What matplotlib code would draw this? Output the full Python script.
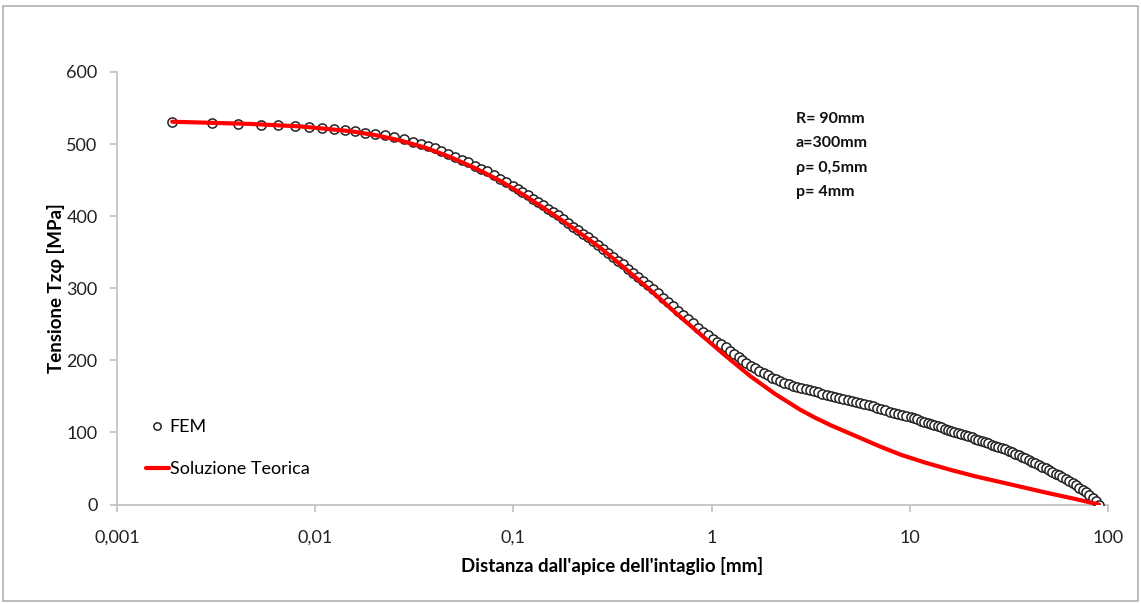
import matplotlib
matplotlib.use("Agg")
import matplotlib.pyplot as plt
from matplotlib.patches import Rectangle

plt.rcParams['font.family'] = ['Lato', 'DejaVu Sans']

# FEM results (distance from notch tip [mm], stress [MPa])
fem_x = [0.0019, 0.0030, 0.0041, 0.0053, 0.0065, 0.0079, 0.0093, 0.0108, 0.0124, 0.0141,
         0.0159, 0.0179, 0.0200, 0.0224, 0.0250, 0.0280,
         0.031, 0.034, 0.037, 0.040, 0.043, 0.047, 0.051, 0.055, 0.059, 0.064,
         0.069, 0.074, 0.080, 0.086, 0.092, 0.099,
         0.105, 0.111, 0.118, 0.125, 0.133, 0.141, 0.149, 0.158, 0.168, 0.178,
         0.188, 0.200, 0.212, 0.224, 0.238, 0.252, 0.267, 0.283, 0.300, 0.318,
         0.337, 0.357, 0.379, 0.402, 0.426, 0.451, 0.478, 0.507, 0.537, 0.570,
         0.604, 0.640, 0.678, 0.719, 0.762, 0.808, 0.857, 0.908, 0.963,
         1.02, 1.07, 1.12, 1.18, 1.24, 1.30, 1.37, 1.43, 1.50, 1.58,
         1.66, 1.74, 1.83, 1.92, 2.02, 2.12, 2.22, 2.33, 2.45, 2.57,
         2.70, 2.84, 2.98, 3.13, 3.28, 3.45, 3.62, 3.80, 3.99, 4.19,
         4.40, 4.62, 4.85, 5.09, 5.35, 5.61, 5.89, 6.19, 6.50, 6.82,
         7.16, 7.52, 7.90, 8.29, 8.71, 9.14, 9.60,
         10.1, 10.5, 10.9, 11.4, 11.8, 12.3, 12.8, 13.3, 13.8, 14.4,
         15.0, 15.6, 16.2, 16.8, 17.5, 18.2, 18.9, 19.7, 20.5, 21.3,
         22.1, 23.0, 23.9, 24.9, 25.9, 26.9, 28.0, 29.1, 30.3, 31.5,
         32.7, 34.0, 35.4, 36.8, 38.3, 39.8, 41.4, 43.0, 44.7, 46.5,
         48.4, 50.3, 52.3, 54.4, 56.6, 58.8, 61.2, 63.6, 66.2, 68.8,
         71.6, 74.4, 77.4, 80.5, 83.7, 87.0, 90.0]
fem_y = [531, 529, 528, 527, 526, 525, 524, 522.5, 521, 519.5,
         518, 516, 514.5, 512, 510, 507,
         502.5, 500, 497, 494, 491, 486, 481.5, 478, 474.5, 470,
         466, 462, 457, 452, 447.5, 442.5,
         437.5, 433.6, 429, 424.5, 419.5, 415, 410.5, 406, 401.2, 396,
         391, 385.5, 380.5, 375.7, 370.5, 365.5, 360.5, 355, 349.5, 344,
         338.5, 333, 327, 321.5, 316, 310.5, 305, 299, 293, 287,
         281, 275, 269, 263, 257.5, 251.5, 245.5, 240, 234.5,
         230, 226, 222, 218, 213.5, 209, 204.5, 200.5, 196.5, 192.5,
         189, 185.5, 182, 179, 176, 173.5, 171, 169, 167, 165,
         163, 161.5, 160, 158.5, 157, 155.5, 154, 152.5, 151, 149.5,
         148, 146.5, 145, 143.5, 142, 140.5, 139, 137.5, 136, 134,
         132.5, 131, 129, 127.5, 126, 124, 122.5,
         121, 119.5, 118, 116, 115, 113, 111.5, 110, 108.5, 107,
         105, 104, 102.5, 101, 99, 97.5, 96, 94.5, 93, 91.5,
         90, 88, 86.5, 85, 83, 81.5, 80, 78.5, 76.5, 74.5,
         72.5, 70.5, 68.5, 66.5, 64.5, 62, 59.5, 57, 55, 52.5,
         50, 47.5, 45, 43, 40.5, 38, 35.5, 33, 30, 27,
         23.5, 20.5, 17, 13, 9, 4.5, 0]

# theoretical solution
teo_x = [0.0019, 0.0030, 0.0047, 0.0084, 0.0150, 0.0201, 0.0269, 0.0360, 0.0481, 0.0643,
         0.0859, 0.115, 0.154, 0.206, 0.275, 0.368, 0.492, 0.658, 0.880, 1.18,
         1.57, 2.10, 2.82, 3.35, 3.99, 4.75, 5.66, 7.14, 9.02, 12.0,
         16.1, 21.5, 28.8, 38.5, 51.5, 68.9, 90.0]
teo_y = [531, 529.5, 528, 524.5, 518, 512.5, 505, 495, 482, 466.5,
         449, 428, 405, 381, 356, 327, 297, 266, 236, 206,
         178, 153, 131, 120, 110, 101, 92, 80, 69, 58,
         48, 39, 31, 23, 15, 7.5, 0]

xticks = [0.001, 0.01, 0.1, 1, 10, 100]
xtick_labels = ['0,001', '0,01', '0,1', '1', '10', '100']
yticks = [0, 100, 200, 300, 400, 500, 600]

params = ['R= 90mm', 'a=300mm', 'ρ= 0,5mm', 'p= 4mm']

fig = plt.figure(figsize=(11.41, 6.04), dpi=100)
ax = fig.add_axes([0.1025, 0.1647, 0.8686, 0.7161])

ax.plot(fem_x, fem_y, linestyle='none', marker='o', markersize=6.6,
        markerfacecolor='white', markeredgecolor='#222222', markeredgewidth=1.1,
        label='FEM', zorder=3)
ax.plot(teo_x, teo_y, color='#ff0000', linewidth=3.0, label='Soluzione Teorica',
        zorder=4, solid_capstyle='round', solid_joinstyle='round')

ax.set_xscale('log')
ax.set_xlim(0.001, 100)
ax.set_ylim(0, 600)
ax.set_xticks(xticks)
ax.set_xticklabels(xtick_labels)
ax.minorticks_off()
ax.set_yticks(yticks)

for s in ['top', 'right']:
    ax.spines[s].set_visible(False)
for s in ['left', 'bottom']:
    ax.spines[s].set_color('#bfbfbf')
    ax.spines[s].set_linewidth(1.2)
ax.tick_params(axis='both', colors='#bfbfbf', length=5, width=1.2, labelcolor='#222222',
               labelsize=13)
ax.tick_params(axis='x', pad=13)
ax.tick_params(axis='y', pad=9)

ax.set_xlabel("Distanza dall'apice dell'intaglio [mm]", fontsize=13.5,
              fontweight='bold', labelpad=8)
ax.set_ylabel('Tensione Tzφ [MPa]', fontsize=13.5, fontweight='bold', labelpad=1)

for i, t in enumerate(params):
    fig.text(796 / 1141, 1 - (119 + 24.3 * i) / 604, t, fontsize=11.5, fontweight='bold',
             va='center', ha='left', color='#111111')

ax.legend(loc='upper left', bbox_to_anchor=(137 / 1141, 1 - 410 / 604),
          bbox_transform=fig.transFigure, frameon=False, fontsize=13,
          handlelength=1.25, handletextpad=0.05, labelspacing=1.45,
          borderpad=0, markerscale=0.8)

fig.patches.append(Rectangle((3 / 1141, 3 / 604), 1135 / 1141, 595 / 604,
                             transform=fig.transFigure, fill=False,
                             edgecolor='#b0b0b0', linewidth=1.2))

fig.savefig('out.png', dpi=100)
